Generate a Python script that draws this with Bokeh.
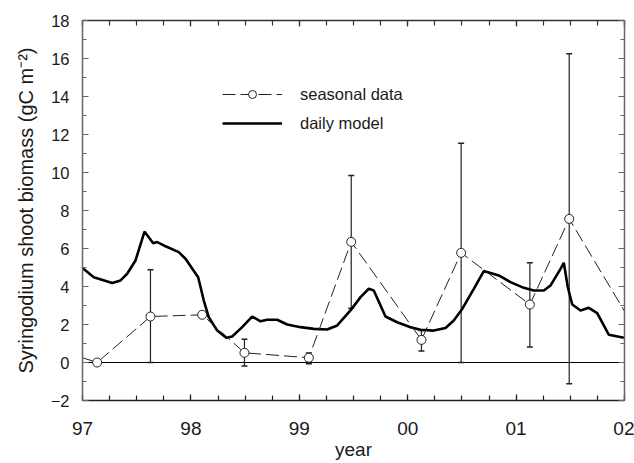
import math
from bokeh.plotting import figure
from bokeh.models import (ColumnDataSource, Whisker, TeeHead, Span, Legend, LegendItem,
                          LinearAxis, SingleIntervalTicker, CustomJSTickFormatter, Range1d)
from bokeh.embed import file_html
from bokeh.resources import INLINE

# ---- data ----
season_years = [1997.135, 1997.627, 1998.104, 1998.494, 1999.088, 1999.479,
                2000.127, 2000.493, 2001.127, 2001.490]
season_vals = [0.0, 2.42, 2.51, 0.51, 0.25, 6.35, 1.19, 5.77, 3.05, 7.56]
err_high = [None, 4.88, None, 1.23, 0.50, 9.84, 1.68, 11.54, 5.25, 16.25]
err_low = [None, 0.0, None, -0.19, -0.07, 2.86, 0.61, 0.0, 0.81, -1.12]
# dashed line continues to values outside the plotted period
edge_years = [1997.0, 2002.0]
edge_vals = [0.25, 2.7]

model_years = [1997.000, 1997.104, 1997.274, 1997.351, 1997.412, 1997.489, 1997.572,
               1997.652, 1997.689, 1997.750, 1997.888, 1997.950, 1998.067, 1998.119,
               1998.165, 1998.243, 1998.326, 1998.381, 1998.473, 1998.565, 1998.642,
               1998.704, 1998.796, 1998.888, 1999.011, 1999.134, 1999.257, 1999.350,
               1999.472, 1999.565, 1999.641, 1999.687, 1999.795, 1999.903, 2000.026,
               2000.118, 2000.241, 2000.349, 2000.425, 2000.503, 2000.610, 2000.702,
               2000.840, 2000.948, 2001.071, 2001.163, 2001.256, 2001.317, 2001.410,
               2001.440, 2001.477, 2001.518, 2001.594, 2001.671, 2001.748, 2001.809,
               2001.855, 2001.994]
model_vals = [4.98, 4.49, 4.19, 4.32, 4.67, 5.37, 6.89,
              6.28, 6.34, 6.16, 5.81, 5.46, 4.49, 3.26,
              2.38, 1.68, 1.30, 1.37, 1.86, 2.42, 2.17,
              2.25, 2.25, 2.00, 1.86, 1.77, 1.74, 1.95,
              2.74, 3.44, 3.88, 3.79, 2.42, 2.12, 1.86,
              1.72, 1.68, 1.82, 2.21, 2.82, 3.88, 4.81,
              4.58, 4.23, 3.93, 3.79, 3.79, 4.05, 4.93,
              5.25, 3.96, 3.05, 2.74, 2.88, 2.60, 1.95,
              1.46, 1.30]

FONT = "Liberation Sans"

p = figure(width=634, height=463, x_range=Range1d(1997, 2002), y_range=Range1d(-2, 18),
           output_backend="svg", toolbar_location=None,
           min_border_left=82, min_border_right=10, min_border_top=20, min_border_bottom=63)
p.outline_line_color = None
p.xgrid.visible = False
p.ygrid.visible = False
p.background_fill_color = "white"
p.border_fill_color = "white"

year_fmt = CustomJSTickFormatter(code="return String(Math.round(tick) % 100).padStart(2, '0');")
blank_fmt = CustomJSTickFormatter(code="return '';")

def style_axis(ax, xdir, labels, color):
    ax.ticker = (SingleIntervalTicker(interval=1, num_minor_ticks=4) if xdir
                 else SingleIntervalTicker(interval=2, num_minor_ticks=2))
    ax.axis_line_color = color
    ax.axis_line_width = 1.5
    ax.major_tick_line_color = color
    ax.minor_tick_line_color = color
    ax.major_tick_line_width = 1.2
    ax.minor_tick_line_width = 1.2
    ax.major_tick_in = 6
    ax.major_tick_out = 0
    ax.minor_tick_in = 5 if xdir else 4
    ax.minor_tick_out = 0
    if labels:
        ax.major_label_text_font = FONT
        ax.major_label_text_color = "#1a1a1a"
    else:
        ax.formatter = blank_fmt
        ax.major_label_text_font_size = "1px"
        ax.major_label_standoff = 0

xa = p.xaxis[0]
style_axis(xa, True, True, "#222222")
xa.formatter = year_fmt
xa.major_label_text_font_size = "19px"
xa.major_label_standoff = 21
xa.axis_label = "year"
xa.axis_label_text_font = FONT
xa.axis_label_text_font_style = "normal"
xa.axis_label_text_font_size = "19px"
xa.axis_label_text_color = "#1a1a1a"
xa.axis_label_standoff = 1

ya = p.yaxis[0]
style_axis(ya, False, True, "#666666")
ya.major_label_text_font_size = "16.5px"
ya.major_label_standoff = 13
ya.axis_label = "Syringodium shoot biomass (gC m\u207b\u00b2)"
ya.axis_label_text_font = FONT
ya.axis_label_text_font_style = "normal"
ya.axis_label_text_font_size = "20px"
ya.axis_label_text_color = "#1a1a1a"
ya.axis_label_standoff = 11

top_ax = LinearAxis()
style_axis(top_ax, True, False, "#333333")
p.add_layout(top_ax, "above")
right_ax = LinearAxis()
style_axis(right_ax, False, False, "#666666")
p.add_layout(right_ax, "right")

zero = Span(location=0, dimension="width", line_color="black", line_width=1, level="underlay")
p.add_layout(zero)

# error bars
eb_x = [x for x, h in zip(season_years, err_high) if h is not None]
eb_hi = [h for h in err_high if h is not None]
eb_lo = [l for l in err_low if l is not None]
eb_src = ColumnDataSource(dict(x=eb_x, upper=eb_hi, lower=eb_lo))
wh = Whisker(base="x", upper="upper", lower="lower", source=eb_src,
             line_color="#222222", line_width=1.2, level="underlay",
             upper_head=TeeHead(size=6, line_color="#222222", line_width=1.5),
             lower_head=TeeHead(size=6, line_color="#222222", line_width=1.5))
p.add_layout(wh)

# model line
model_r = p.line(model_years, model_vals, line_color="black", line_width=2.6)

# seasonal dashed line + circles
line_x = [edge_years[0]] + season_years + [edge_years[1]]
line_y = [edge_vals[0]] + season_vals + [edge_vals[1]]
dash_r = p.line(line_x, line_y, line_color="#222222", line_width=1, line_dash="13 5")
circ_r = p.scatter(season_years, season_vals, marker="circle", size=9,
                   fill_color="white", line_color="#222222", line_width=1)

legend = Legend(items=[LegendItem(label="seasonal data", renderers=[dash_r, circ_r]),
                       LegendItem(label="daily model", renderers=[model_r])],
                location=(140, 267), glyph_width=60, glyph_height=20, label_height=20,
                label_standoff=18, spacing=9, padding=0, margin=0,
                border_line_color=None, background_fill_alpha=0,
                label_text_font=FONT, label_text_font_size="16.5px",
                label_text_color="#1a1a1a")
p.add_layout(legend)

open("out.html", "w").write(file_html(p, INLINE))
